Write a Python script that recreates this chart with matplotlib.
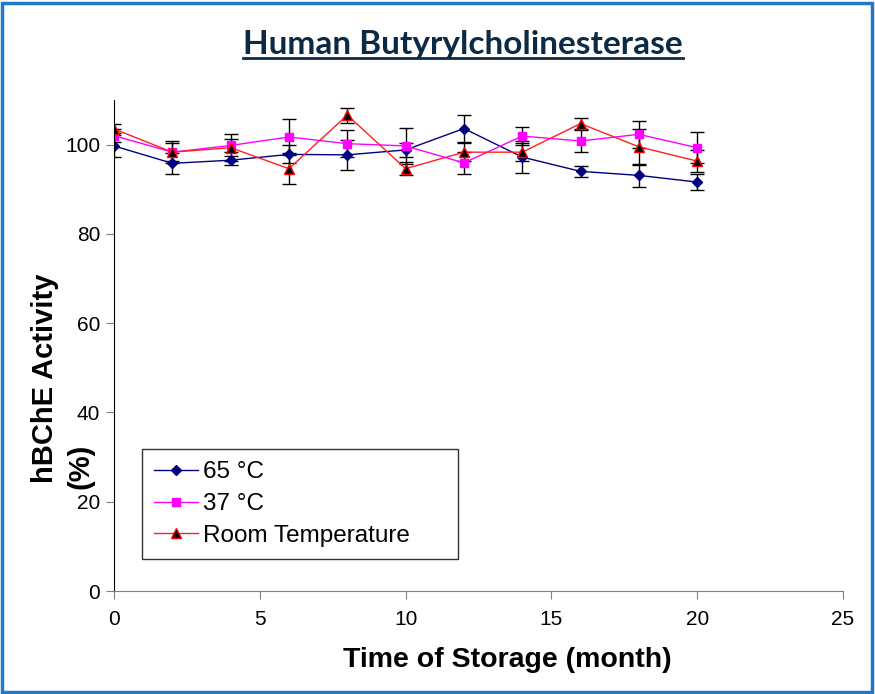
import numpy as np
import matplotlib.pyplot as plt
from matplotlib.patches import Rectangle
from matplotlib.lines import Line2D

# storage time (months)
months = [0, 2, 4, 6, 8, 10, 12, 14, 16, 18, 20]

# activity (%) and error bars
act_65 = [99.7, 95.8, 96.5, 97.8, 97.7, 98.8, 103.6, 97.2, 94.0, 93.1, 91.6]
err_65 = [2.4, 2.4, 1.0, 2.0, 3.4, 1.5, 3.0, 3.5, 1.2, 2.5, 1.8]

act_37 = [102.0, 98.3, 99.8, 101.7, 100.2, 99.7, 95.9, 101.9, 100.8, 102.3, 99.3]
err_37 = [1.5, 2.0, 1.5, 4.0, 3.0, 4.0, 2.5, 2.0, 2.5, 3.0, 3.5]

act_rt = [103.5, 98.3, 99.3, 94.6, 106.6, 94.6, 98.3, 98.3, 104.7, 99.5, 96.3]
err_rt = [1.0, 2.5, 3.0, 3.5, 1.7, 1.5, 2.0, 2.0, 1.3, 4.0, 2.5]

labels = ['65 \u00b0C', '37 \u00b0C', 'Room Temperature']

plt.rcParams['font.family'] = ['Liberation Sans', 'DejaVu Sans']

fig = plt.figure(figsize=(8.75, 6.94), dpi=100)

# blue frame around the slide
fig.patches.append(Rectangle((0.002, 0.003), 0.995, 0.993, transform=fig.transFigure,
                             fill=False, ec='#1f78c8', lw=2.5))

# title (underlined)
fig.text(0.529, 0.936, 'Human Butyrylcholinesterase', ha='center', va='center',
         fontsize=24, fontweight='bold', color='#0c2a44',
         family=['Lato', 'DejaVu Sans'])
fig.add_artist(Line2D([0.278, 0.781], [0.9165, 0.9165], color='#0c2a44', lw=2))

ax = fig.add_axes([0.1303, 0.1484, 0.8331, 0.7076])

styles = [
    dict(color='#000080', marker='D', ms=5.5, mfc='#000080', mec='#000080'),
    dict(color='#ff00ff', marker='s', ms=6, mfc='#ff00ff', mec='#ff00ff'),
    dict(color='#ff2020', marker='^', ms=7, mfc='black', mec='#ff0000'),
]
ebkw = dict(ecolor='black', elinewidth=1, capsize=5, capthick=1)
for y, e, st in zip([act_65, act_37, act_rt], [err_65, err_37, err_rt], styles):
    ax.errorbar(months, y, yerr=e, lw=1, **st, **ebkw)

ax.set_xlim(0, 25)
ax.set_ylim(0, 110)
ax.set_xticks([0, 5, 10, 15, 20, 25])
ax.set_yticks([0, 20, 40, 60, 80, 100])
ax.tick_params(labelsize=15, direction='out', length=6, color='#808080')
ax.tick_params(axis='x', pad=8)
ax.tick_params(axis='y', pad=4)
ax.spines['top'].set_visible(False)
ax.spines['right'].set_visible(False)
ax.spines['bottom'].set_color('#808080')

# axis titles
fig.text(0.58, 1 - 660 / 694, 'Time of Storage (month)', ha='center', va='center',
         fontsize=20.5, fontweight='bold')
fig.text(45 / 875, 1 - 378 / 694, 'hBChE Activity', ha='center', va='center',
         rotation=90, fontsize=21, fontweight='bold')
fig.text(81 / 875, 1 - 466 / 694, '(%)', ha='center', va='center',
         rotation=90, fontsize=21, fontweight='bold')

handles = [Line2D([], [], lw=1, **st) for st in styles]
handles[0].set_markersize(5)
handles[1].set_markersize(5.5)
handles[2].set_markersize(6.5)
leg = ax.legend(handles, labels, loc='lower left',
                bbox_to_anchor=(0.0384, 0.0652, 0.4335, 0.2), mode='expand',
                fontsize=17.5, frameon=True, fancybox=False, edgecolor='black',
                handlelength=1.8, borderpad=0.5, labelspacing=0.4,
                handletextpad=0.2, borderaxespad=0)
leg.get_frame().set_linewidth(1)

fig.savefig('out.png', dpi=100)
